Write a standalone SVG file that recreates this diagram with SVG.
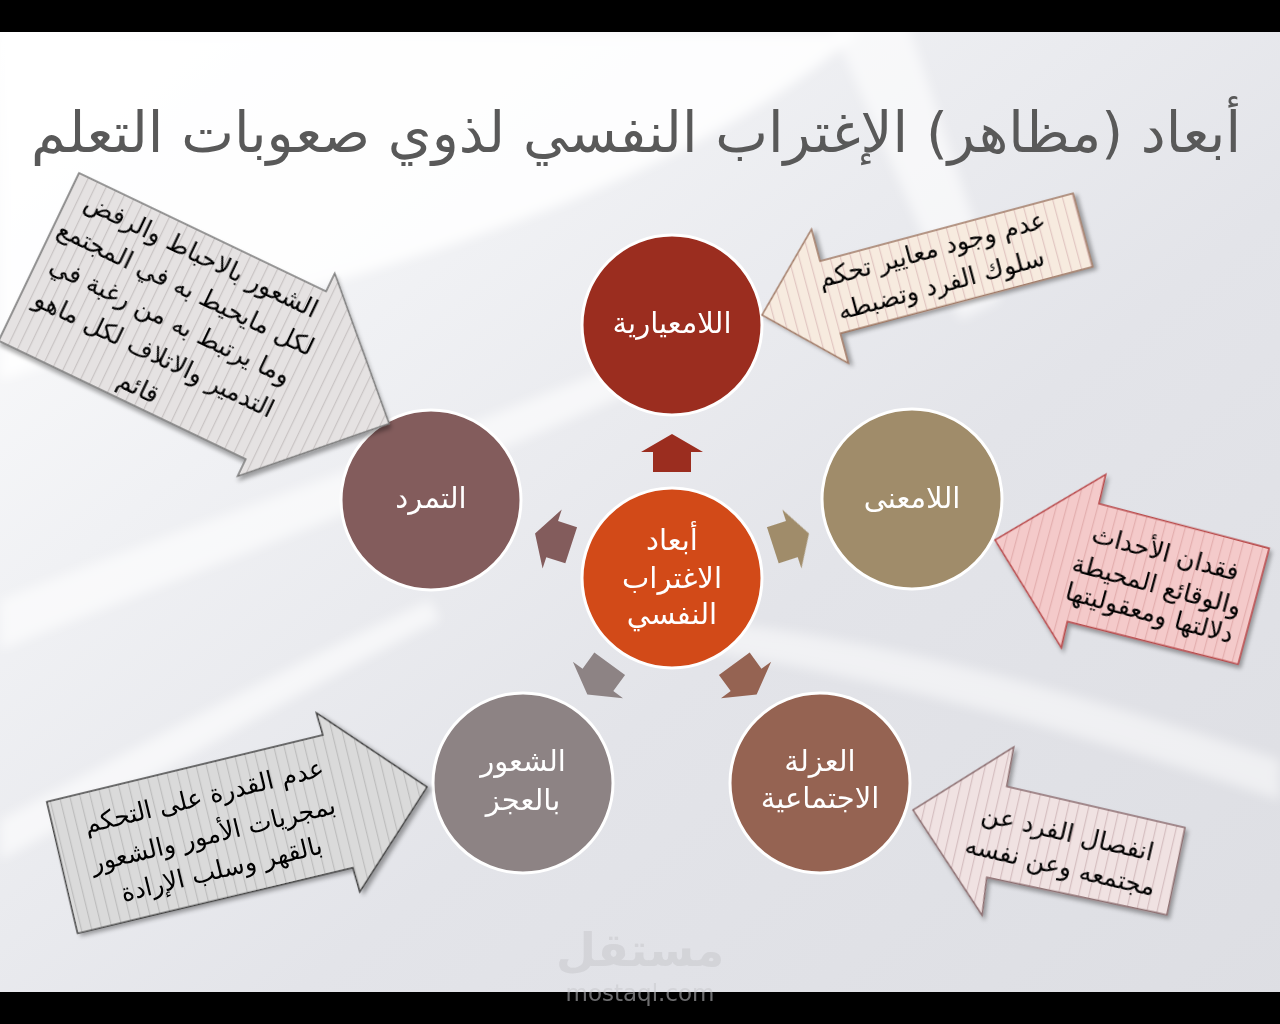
<svg xmlns="http://www.w3.org/2000/svg" width="1280" height="1024" viewBox="0 0 1280 1024">
<defs>
<linearGradient id="bg" x1="0" y1="0" x2="1" y2="1">
<stop offset="0" stop-color="#FFFFFF"/>
<stop offset="0.3" stop-color="#F0F1F4"/>
<stop offset="0.6" stop-color="#E3E4E9"/>
<stop offset="1" stop-color="#DDDEE3"/>
</linearGradient>
<filter id="blur" x="-20%" y="-20%" width="140%" height="140%"><feGaussianBlur stdDeviation="6"/></filter>
<filter id="sh" x="-10%" y="-10%" width="130%" height="130%"><feDropShadow dx="3" dy="3" stdDeviation="2" flood-color="#000" flood-opacity="0.35"/></filter>
<pattern id="pGray" width="10" height="10" patternUnits="userSpaceOnUse"><rect width="10" height="10" fill="#E5E2E2"/><rect x="0" width="1.2" height="10" fill="#C9C4C4"/></pattern>
<pattern id="pBeige" width="10" height="10" patternUnits="userSpaceOnUse"><rect width="10" height="10" fill="#F7EBDF"/><rect x="0" width="1.2" height="10" fill="#E2C7C2"/></pattern>
<pattern id="pPink" width="10" height="10" patternUnits="userSpaceOnUse"><rect width="10" height="10" fill="#F4CACA"/><rect x="0" width="1.2" height="10" fill="#E4AFAF"/></pattern>
<pattern id="pRose" width="10" height="10" patternUnits="userSpaceOnUse"><rect width="10" height="10" fill="#F0E2E2"/><rect x="0" width="1.2" height="10" fill="#D6BFC1"/></pattern>
<pattern id="pDark" width="10" height="10" patternUnits="userSpaceOnUse"><rect width="10" height="10" fill="#DADADA"/><rect x="0" width="1.2" height="10" fill="#BDBDBD"/></pattern>
<path id="sa" d="M672,434 L703,452 L691,452 L691,472 L653,472 L653,452 L641,452 Z"/>
</defs>
<style>
.ar{font-family:'DejaVu Sans',sans-serif;}
.node{stroke:#FFFFFF;stroke-width:3;}
.nt{font-family:'DejaVu Sans',sans-serif;fill:#FFFFFF;font-size:29px;text-anchor:middle;}
.ct{font-family:'DejaVu Sans',sans-serif;fill:#000000;font-size:25px;text-anchor:middle;}
</style>

<!-- background -->
<rect x="0" y="0" width="1280" height="1024" fill="url(#bg)"/>
<g filter="url(#blur)" fill="#FFFFFF">
<path d="M0,600 C200,520 420,450 700,330 L720,350 C450,480 220,560 0,650 Z" opacity="0.6"/>
<path d="M0,820 C150,740 300,660 430,600 L440,620 C300,690 150,780 0,860 Z" opacity="0.6"/>
<path d="M820,0 L900,0 L1000,300 L960,320 Z" opacity="0.6"/>
<path d="M700,620 C900,640 1100,700 1280,760 L1280,800 C1100,740 900,680 700,650 Z" opacity="0.5"/>
<path d="M0,32 L860,32 C640,220 320,280 0,380 Z" opacity="0.85"/>
</g>

<!-- title -->
<text class="ar" x="636" y="152" font-size="56" fill="#595959" text-anchor="middle">أبعاد (مظاهر) الإغتراب النفسي لذوي صعوبات التعلم</text>

<!-- connectors -->
<g id="connectors">
<use href="#sa" fill="#9B2D1F"/>
<use href="#sa" fill="#A08C6A" transform="rotate(72 672 578)"/>
<use href="#sa" fill="#956352" transform="rotate(144 672 578)"/>
<use href="#sa" fill="#8D8384" transform="rotate(216 672 578)"/>
<use href="#sa" fill="#835C5C" transform="rotate(288 672 578)"/>
</g>

<!-- nodes -->
<g id="node-center"><circle class="node" cx="672" cy="578" r="90" fill="#D24A18"/>
<text class="nt" x="672" y="550" font-size="31">أبعاد</text>
<text class="nt" x="672" y="588" font-size="31">الاغتراب</text>
<text class="nt" x="672" y="624" font-size="31">النفسي</text></g>
<g id="node-top"><circle class="node" cx="672" cy="325" r="90" fill="#9B2D1F"/>
<text class="nt" x="672" y="333">اللامعيارية</text></g>
<g id="node-right"><circle class="node" cx="912" cy="499" r="90" fill="#A08C6A"/>
<text class="nt" x="912" y="508">اللامعنى</text></g>
<g id="node-left"><circle class="node" cx="431" cy="500" r="90" fill="#835C5C"/>
<text class="nt" x="431" y="508">التمرد</text></g>
<g id="node-bl"><circle class="node" cx="523" cy="783" r="90" fill="#8D8384"/>
<text class="nt" x="523" y="771">الشعور</text>
<text class="nt" x="523" y="810">بالعجز</text></g>
<g id="node-br"><circle class="node" cx="820" cy="783" r="90" fill="#956352"/>
<text class="nt" x="820" y="771">العزلة</text>
<text class="nt" x="820" y="808">الاجتماعية</text></g>

<!-- callouts -->
<g id="callout-rebellion" transform="translate(79,173) rotate(25.6)">
<path d="M0,0 L274,0 L274,-20 L388,92 L274,205 L274,186 L0,186 Z" fill="url(#pGray)" stroke="#7A7A7A" stroke-width="1.5" filter="url(#sh)"/>
<text class="ct" x="146" y="30">الشعور بالاحباط والرفض</text>
<text class="ct" x="146" y="66">لكل مايحيط به في    المجتمع</text>
<text class="ct" x="146" y="102">وما يرتبط به من رغبة في</text>
<text class="ct" x="146" y="139">التدمير والاتلاف لكل ماهو</text>
<text class="ct" x="146" y="176">قائم</text>
</g>
<g id="callout-normless" transform="translate(762,315) rotate(-15)">
<path d="M0,0 L70,-70 L70,-37 L332,-37 L332,39 L71,38 L71,69 Z" fill="url(#pBeige)" stroke="#A07A66" stroke-width="1.5" filter="url(#sh)"/>
<text class="ct" x="181" y="-11" font-size="26">عدم وجود معايير تحكم</text>
<text class="ct" x="181" y="25" font-size="26">سلوك الفرد وتضبطه</text>
</g>
<g id="callout-meaningless" transform="translate(995,540) rotate(15)">
<path d="M0,0 L90,-92 L91,-62 L267,-63 L267,57 L91,60 L92,87 Z" fill="url(#pPink)" stroke="#B8484A" stroke-width="1.5" filter="url(#sh)"/>
<text class="ct" x="168" y="-23" font-size="24">فقدان الأحداث</text>
<text class="ct" x="168" y="10" font-size="24">والوقائع المحيطة</text>
<text class="ct" x="168" y="39" font-size="24">دلالتها ومعقوليتها</text>
</g>
<g id="callout-isolation" transform="translate(913,810) rotate(13)">
<path d="M0,0 L84,-84 L86,-44 L269,-44 L271,45 L87,49 L91,87 Z" fill="url(#pRose)" stroke="#8C6E70" stroke-width="1.5" filter="url(#sh)"/>
<text class="ct" x="156" y="-4" font-size="26">انفصال الفرد عن</text>
<text class="ct" x="156" y="30" font-size="26">مجتمعه وعن نفسه</text>
</g>
<g id="callout-helpless" transform="translate(427,787) rotate(-13.6)">
<path d="M0,0 L-90,-98 L-89,-75 L-373,-75 L-374,60 L-91,61 L-90,86 Z" fill="url(#pDark)" stroke="#404040" stroke-width="1.5" filter="url(#sh)"/>
<text class="ct" x="-219" y="-35" font-size="26">عدم القدرة على التحكم</text>
<text class="ct" x="-219" y="4" font-size="26">بمجريات الأمور والشعور</text>
<text class="ct" x="-219" y="40" font-size="26">بالقهر وسلب الإرادة</text>
</g>

<!-- bars -->
<rect x="0" y="0" width="1280" height="32" fill="#000000"/>
<rect x="0" y="992" width="1280" height="32" fill="#000000"/>

<!-- watermark -->
<g fill="#C8C8CC" opacity="0.55" text-anchor="middle">
<text class="ar" x="640" y="966" font-size="46" font-weight="bold">مستقل</text>
<text x="640" y="1001" font-size="23" font-family="'DejaVu Sans',sans-serif">mostaql.com</text>
</g>
</svg>
